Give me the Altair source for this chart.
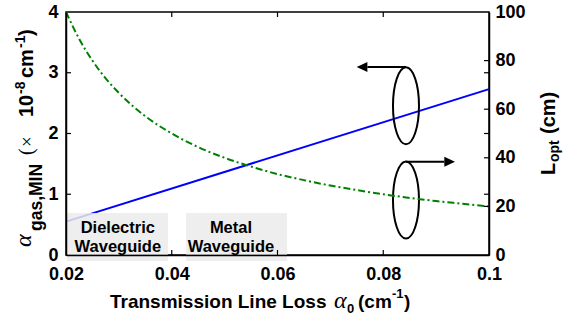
import altair as alt
import pandas as pd

# ---------------- data ----------------
alpha0_line = [0.02, 0.1]
alpha_gas_min = [0.55, 2.73]

alpha0_curve = [0.02, 0.0225, 0.025, 0.0275, 0.03, 0.035, 0.04, 0.045, 0.05,
                0.055, 0.06, 0.065, 0.07, 0.075, 0.08, 0.085, 0.09, 0.095, 0.1]
l_opt = [100, 88.9, 80, 72.7, 66.7, 57.1, 50, 44.4, 40,
         36.4, 33.3, 30.8, 28.6, 26.7, 25, 23.5, 22.2, 21.1, 20]

box_x0 = [0.0202, 0.0427]
box_x1 = [0.0393, 0.0618]
box_y0 = [-0.1, -0.1]
box_y1 = [0.69, 0.69]
box_text_x = [0.0298, 0.0512]
box_line1 = ["Dielectric", "Metal"]
box_line2 = ["Waveguide", "Waveguide"]

x_ticks = [0.02, 0.04, 0.06, 0.08, 0.1]
x_inner_ticks = [0.04, 0.06, 0.08]
left_ticks = [0, 1, 2, 3, 4]
left_inner_ticks = [1, 2, 3]
right_ticks = [0, 20, 40, 60, 80, 100]
right_inner_ticks = [20, 25, 40, 50, 60, 75, 80]

ellipse_x = [0.0843, 0.0843]
ellipse_y = [2.456, 0.905]
arrow_x0 = [0.0843, 0.0843]
arrow_x1 = [0.0770, 0.09155]
arrow_y = [3.095, 1.536]

W, H = 423, 243
L0, T0 = 66, 12
SANS = "Liberation Sans"
SERIF = "Liberation Serif"

xscale = alt.Scale(domain=[0.02, 0.1], nice=False, zero=False)
yl = alt.Scale(domain=[0, 4], nice=False, zero=False)
yr = alt.Scale(domain=[0, 100], nice=False, zero=False)

lab = dict(labelFont=SANS, labelFontSize=18, labelFontWeight="bold",
           labelColor="black", ticks=False, tickSize=0, grid=False,
           domain=True, domainColor="black", domainWidth=1.5, zindex=1, title=None)

XAX = alt.Axis(values=x_ticks, format=".2~f", labelPadding=10,
               labelFlush=False, labelOverlap=False, orient="bottom", **lab)
YLAX = alt.Axis(values=left_ticks, format="d", labelPadding=8, orient="left",
                labelOverlap=False, **lab)
YRAX = alt.Axis(values=right_ticks, format="d", labelPadding=6, orient="right",
                labelOverlap=False, **lab)


def X(f):
    return alt.X(f, scale=xscale, axis=XAX)


def YL(f):
    return alt.Y(f, scale=yl, axis=YLAX)


def YR(f):
    return alt.Y(f, scale=yr, axis=YRAX)


# ---------------- left-scale layer ----------------
df_blue = pd.DataFrame({"x": alpha0_line, "y": alpha_gas_min})
blue = alt.Chart(df_blue).mark_line(color="#0000FF", strokeWidth=2).encode(
    x=X("x:Q"), y=YL("y:Q"))

df_box = pd.DataFrame({"x0": box_x0, "x1": box_x1, "y0": box_y0, "y1": box_y1,
                       "tx": box_text_x, "l1": box_line1, "l2": box_line2,
                       "ty1": [0.36, 0.36], "ty2": [0.05, 0.05]})
boxes = alt.Chart(df_box).mark_rect(color="#EBEBEB", opacity=0.85).encode(
    x=X("x0:Q"), x2="x1:Q", y=YL("y0:Q"), y2="y1:Q")
t1 = alt.Chart(df_box).mark_text(font=SANS, fontSize=16.5, fontWeight="bold",
                                 color="black", baseline="alphabetic").encode(
    x=X("tx:Q"), y=YL("ty1:Q"), text="l1:N")
t2 = alt.Chart(df_box).mark_text(font=SANS, fontSize=16.5, fontWeight="bold",
                                 color="black", baseline="alphabetic").encode(
    x=X("tx:Q"), y=YL("ty2:Q"), text="l2:N")

# inner ticks
df_lt = pd.DataFrame({"y": left_inner_ticks})
lticks = alt.Chart(df_lt).mark_rule(color="black", strokeWidth=1.2).encode(
    y=YL("y:Q"), x=alt.value(0), x2=alt.value(5))
df_xt = pd.DataFrame({"x": x_inner_ticks})
bticks = alt.Chart(df_xt).mark_rule(color="black", strokeWidth=1.2).encode(
    x=X("x:Q"), y=alt.value(H), y2=alt.value(H - 5))
tticks = alt.Chart(df_xt).mark_rule(color="black", strokeWidth=1.2).encode(
    x=X("x:Q"), y=alt.value(0), y2=alt.value(5))

# ellipses and arrows
ELL = ("M0,-1 C0.1867,-1 0.338,-0.5523 0.338,0 C0.338,0.5523 0.1867,1 0,1 "
       "C-0.1867,1 -0.338,0.5523 -0.338,0 C-0.338,-0.5523 -0.1867,-1 0,-1 Z")
df_ell = pd.DataFrame({"x": ellipse_x, "y": ellipse_y})
ellipses = alt.Chart(df_ell).mark_point(shape=ELL, size=5929, filled=False,
                                        color="black", strokeWidth=2, opacity=1).encode(
    x=X("x:Q"), y=YL("y:Q"))
df_arr = pd.DataFrame({"x0": arrow_x0, "x1": arrow_x1, "y": arrow_y,
                       "dir": ["left", "right"]})
arrow_lines = alt.Chart(df_arr).mark_rule(color="black", strokeWidth=2).encode(
    x=X("x0:Q"), x2="x1:Q", y=YL("y:Q"))
head_l = alt.Chart(df_arr).transform_filter("datum.dir == 'left'").mark_point(
    shape="M-1,0 L0,-0.47 L0,0.47 Z", size=458, filled=True, color="black", opacity=1).encode(
    x=X("x1:Q"), y=YL("y:Q"))
head_r = alt.Chart(df_arr).transform_filter("datum.dir == 'right'").mark_point(
    shape="M1,0 L0,-0.47 L0,0.47 Z", size=458, filled=True, color="black", opacity=1).encode(
    x=X("x1:Q"), y=YL("y:Q"))


# title pieces (absolute pixel positions in the 565x326 picture)
def piece(txt, ax, ay, size, angle=0, weight="bold", font=SANS, style="normal"):
    kw = dict(font=font, fontSize=size, fontWeight=weight, fontStyle=style,
              align="left", baseline="alphabetic", color="black")
    if angle:
        kw["angle"] = angle
    return alt.Chart(pd.DataFrame({"t": [txt]})).mark_text(**kw).encode(
        x=alt.value(ax - L0), y=alt.value(ay - T0), text="t:N")


pieces = [
    # bottom title
    piece("Transmission Line Loss", 110, 308, 19),
    piece("α", 334, 308, 24, weight="normal", font=SERIF, style="italic"),
    piece("0", 347, 313, 13),
    piece("(cm", 358, 308, 19),
    piece("-1", 392, 298, 13),
    piece(")", 404, 308, 19),
    # left title (rotated)
    piece("α", 31, 247, 24, angle=270, weight="normal", font=SERIF, style="italic"),
    piece("gas,MIN", 42, 231, 17.5, angle=270),
    piece("(", 33, 155, 20, angle=270, weight="normal", font=SERIF),
    piece("×", 33, 147, 19, angle=270, weight="normal", font=SERIF),
    piece("10", 33, 117, 20, angle=270),
    piece("-8", 25, 94, 14, angle=270),
    piece("cm", 33, 78, 20, angle=270),
    piece("-1", 25, 48, 14, angle=270),
    piece(")", 33, 36, 20, angle=270),
    # right title (rotated)
    piece("L", 555, 175, 20, angle=270),
    piece("opt", 559, 162, 14, angle=270),
    piece("(cm)", 555, 134, 20, angle=270),
]

left_layer = alt.layer(blue, boxes, t1, t2, lticks, bticks, tticks,
                       ellipses, arrow_lines, head_l, head_r, *pieces)

# ---------------- right-scale layer ----------------
df_green = pd.DataFrame({"x": alpha0_curve, "y": l_opt})
green = alt.Chart(df_green).mark_line(color="#008000", strokeWidth=2,
                                      strokeDash=[7, 3, 2, 3],
                                      interpolate="monotone").encode(
    x=X("x:Q"), y=YR("y:Q"))
df_rt = pd.DataFrame({"y": right_inner_ticks})
rticks = alt.Chart(df_rt).mark_rule(color="black", strokeWidth=1.2).encode(
    y=YR("y:Q"), x=alt.value(W), x2=alt.value(W - 5))
right_layer = alt.layer(green, rticks)

chart = alt.layer(left_layer, right_layer).resolve_scale(y="independent").properties(
    width=W, height=H,
    background="white",
    autosize=alt.AutoSizeParams(type="none"),
    padding={"left": L0, "top": T0, "right": 565 - L0 - W, "bottom": 326 - T0 - H},
).configure_view(stroke="black", strokeWidth=1.5)

chart.save("out.html", embed_options={"renderer": "svg", "actions": False})
